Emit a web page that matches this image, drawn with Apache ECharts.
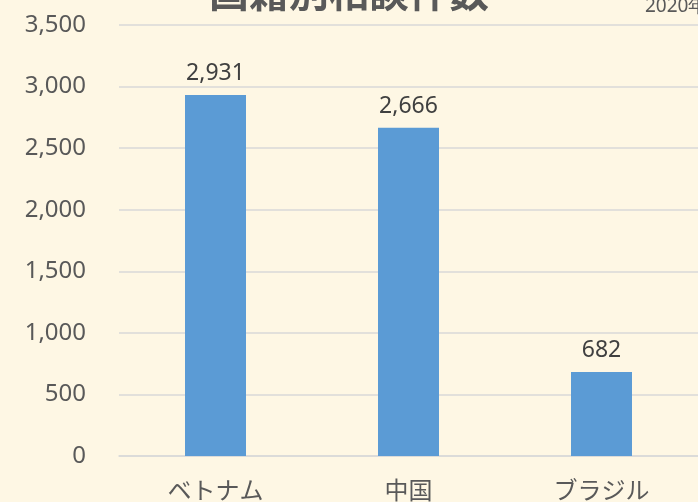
<!DOCTYPE html>
<html>
<head>
<meta charset="utf-8">
<script src="https://cdn.jsdelivr.net/npm/echarts@6/dist/echarts.min.js"></script>
<style>
	html, body { margin: 0; padding: 0; background: #FEF7E4; }
	#chart { width: 698px; height: 502px; }
</style>
</head>
<body>
<div id="chart"></div>
<script>
	// 国籍別の件数
	var categories = ['ベトナム', '中国', 'ブラジル'];
	var counts = [2931, 2666, 682];
	var yTicks = { min: 0, max: 3500, interval: 500 };
	var titleText = '国籍別相談件数';
	var noteText = '2020年';

	var chart = echarts.init(document.getElementById('chart'));
	var option = {
		backgroundColor: '#FEF7E4',
		title: {
			text: titleText,
			left: 'center',
			top: -28,
			padding: 0,
			textStyle: {
				color: '#595959',
				fontSize: 40,
				fontWeight: 'bold',
				fontFamily: 'Noto Sans CJK JP'
			}
		},
		graphic: [{
			type: 'text',
			left: 645,
			top: -3,
			style: {
				text: noteText,
				fill: '#595959',
				font: '19px "Noto Sans", sans-serif'
			}
		}],
		grid: {
			left: 119,
			right: 0,
			top: 25,
			bottom: 45
		},
		xAxis: {
			type: 'category',
			data: categories,
			axisLine: { lineStyle: { color: '#D9D9D9', width: 1.5 } },
			axisTick: { show: false },
			axisLabel: {
				color: '#595959',
				fontSize: 24,
				margin: 22,
				fontFamily: 'Noto Sans CJK JP'
			}
		},
		yAxis: {
			type: 'value',
			min: yTicks.min,
			max: yTicks.max,
			interval: yTicks.interval,
			axisLine: { show: false },
			axisTick: { show: false },
			splitLine: { lineStyle: { color: '#D9D9D9', width: 1.5 } },
			axisLabel: {
				color: '#595959',
				fontSize: 24,
				margin: 33,
				fontFamily: 'Noto Sans, sans-serif',
				formatter: function (v) { return v.toLocaleString('en-US'); }
			}
		},
		series: [{
			type: 'bar',
			data: counts,
			barWidth: 61,
			itemStyle: { color: '#5B9BD5' },
			label: {
				show: true,
				position: 'top',
				distance: 10,
				color: '#404040',
				fontSize: 23,
				fontFamily: 'Noto Sans, sans-serif',
				formatter: function (p) { return p.value.toLocaleString('en-US'); }
			}
		}]
	};
	chart.setOption(option);
</script>
</body>
</html>
